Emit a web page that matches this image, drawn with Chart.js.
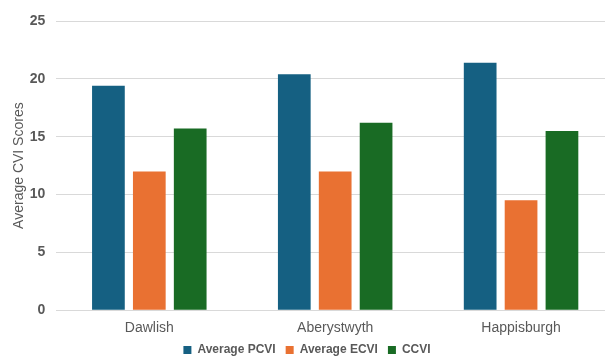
<!DOCTYPE html>
<html>
<head>
<meta charset="utf-8">
<script src="https://cdn.jsdelivr.net/npm/chart.js@4/dist/chart.umd.min.js"></script>
<style>
  html, body { margin: 0; padding: 0; background: #ffffff; overflow: hidden; }
  #wrap { position: relative; width: 614px; height: 371px; }
</style>
</head>
<body>
<div id="wrap"><canvas id="chart"></canvas></div>
<script>
const sites = ['Dawlish', 'Aberystwyth', 'Happisburgh'];
const avgPCVI = [19.4, 20.4, 21.4];
const avgECVI = [12.0, 12.0, 9.5];
const ccvi = [15.7, 16.2, 15.5];
const yTicks = [0, 5, 10, 15, 20, 25];

const textColor = '#595959';
const fontFamily = '"Liberation Sans", Arial, sans-serif';

// Pull the legend row a little closer to the category labels.
const raiseLegend = {
  id: 'raiseLegend',
  afterLayout(chart) {
    const legend = chart.legend;
    legend.top -= 5;
    legend.bottom -= 5;
  }
};

new Chart(document.getElementById('chart'), {
  type: 'bar',
  data: {
    labels: sites,
    datasets: [
      { label: 'Average PCVI', data: avgPCVI, backgroundColor: '#156082' },
      { label: 'Average ECVI', data: avgECVI, backgroundColor: '#E97132' },
      { label: 'CCVI', data: ccvi, backgroundColor: '#196B24' }
    ]
  },
  options: {
    responsive: true,
    maintainAspectRatio: false,
    animation: false,
    datasets: {
      bar: { categoryPercentage: 0.66, barPercentage: 0.8 }
    },
    layout: { padding: { top: 21, right: 0, bottom: 0, left: 0 } },
    scales: {
      x: {
        grid: { display: false },
        border: { display: false },
        ticks: { color: textColor, font: { family: fontFamily, size: 14 }, padding: 2 }
      },
      y: {
        min: 0,
        max: 25,
        afterBuildTicks: (axis) => { axis.ticks = yTicks.map(v => ({ value: v })); },
        grid: { color: '#d9d9d9', lineWidth: 1, drawTicks: false },
        border: { display: false },
        ticks: { color: textColor, font: { family: fontFamily, size: 14, weight: 'bold' }, padding: 11 },
        title: {
          display: true,
          text: 'Average CVI Scores',
          color: textColor,
          font: { family: fontFamily, size: 14 },
          padding: { top: 11, bottom: -9 }
        }
      }
    },
    plugins: {
      legend: {
        position: 'bottom',
        labels: {
          color: textColor,
          font: { family: fontFamily, size: 12, weight: 'bold' },
          boxWidth: 8,
          boxHeight: 8,
          padding: 10
        }
      },
      tooltip: { enabled: false }
    }
  },
  plugins: [raiseLegend]
});
</script>
</body>
</html>
